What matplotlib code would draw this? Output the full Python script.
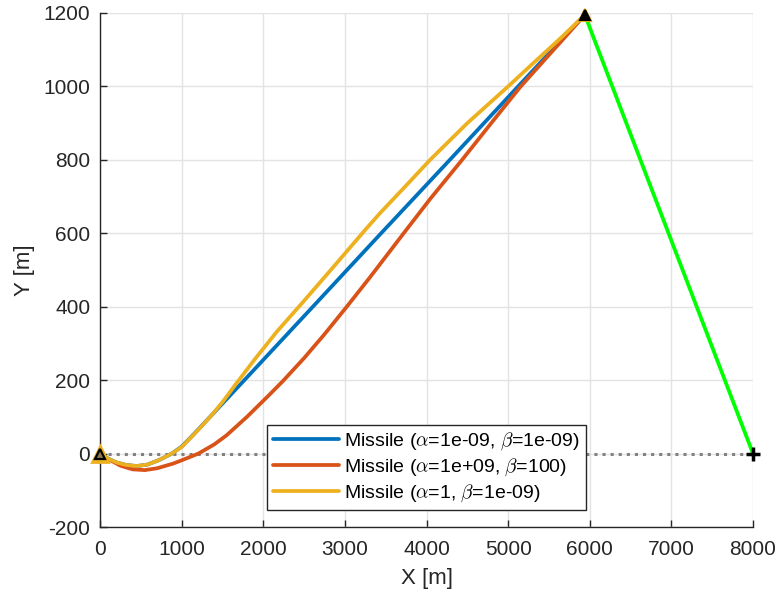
import numpy as np
import matplotlib
matplotlib.use("Agg")
import matplotlib.pyplot as plt

plt.rcParams['font.family'] = ['Liberation Sans', 'DejaVu Sans']
plt.rcParams['mathtext.fontset'] = 'cm'
plt.rcParams['axes.unicode_minus'] = False

# Missile 1 (blue)
blue_x = [0, 100, 200, 320, 450, 580, 720, 880, 1000, 1150, 1348, 1756, 2574, 3431, 4252, 5110, 5940]
blue_y = [0, -14, -24, -31, -34, -30, -18, 0, 19, 53, 100, 197, 392, 597, 792, 997, 1195]

# Missile 2 (red)
red_x = [0, 100, 250, 400, 550, 700, 900, 1050, 1205, 1400, 1552, 1800, 2083, 2243, 2500, 2750,
         3023, 3300, 3720, 4050, 4436, 4800, 5147, 5453, 5700, 5940]
red_y = [0, -15, -33, -43, -45, -40, -27, -14, 0, 25, 50, 100, 162, 198, 260, 325,
         400, 478, 600, 695, 800, 902, 998, 1074, 1135, 1195]

# Missile 3 (yellow)
yel_x = [0, 100, 200, 320, 450, 580, 720, 880, 1000, 1150, 1350, 1500, 1660, 1900, 2170, 2480,
         2800, 3248, 3431, 3750, 4044, 4500, 5000, 5331, 5650, 5940]
yel_y = [0, -14, -24, -31, -34, -30, -18, 0, 18, 52, 100, 140, 188, 258, 333, 411,
         493, 609, 655, 730, 800, 900, 1000, 1068, 1133, 1195]

# Target path (green)
tgt_x = [8000, 5940]
tgt_y = [0, 1195]

labels = [r'Missile ($\alpha$=1e-09, $\beta$=1e-09)',
          r'Missile ($\alpha$=1e+09, $\beta$=100)',
          r'Missile ($\alpha$=1, $\beta$=1e-09)']

xticks = [0, 1000, 2000, 3000, 4000, 5000, 6000, 7000, 8000]
yticks = [-200, 0, 200, 400, 600, 800, 1000, 1200]

fig = plt.figure(figsize=(7.79, 5.99), dpi=100)
ax = fig.add_axes([0.1284, 0.1202, 0.8382, 0.8581])

ax.plot([0, 8000], [0, 0], ':', color='#808080', lw=2.2, zorder=1)

cols = ['#0072BD', '#D95319', '#EDB120']
h = []
for xs, ys, c, lab in zip([blue_x, red_x, yel_x], [blue_y, red_y, yel_y], cols, labels):
    l, = ax.plot(xs, ys, '-', color=c, lw=2.7, label=lab, zorder=3,
                 solid_joinstyle='round', solid_capstyle='round')
    h.append(l)

ax.plot(tgt_x, tgt_y, '-', color='#00FF00', lw=2.7, zorder=3)

# start marker
ax.plot(blue_x[0], blue_y[0], '^', ms=11, mfc='#EDB120', mec='#EDB120', mew=2, zorder=5, clip_on=False)
ax.plot(blue_x[0], blue_y[0], '^', ms=7.5, mfc='#8a7a50', mec='black', mew=1.6, zorder=6, clip_on=False)
# end marker
ax.plot(blue_x[-1], blue_y[-1], '^', ms=8, mfc='#EDB120', mec='#EDB120', mew=1.5, zorder=5, clip_on=False)
ax.plot(blue_x[-1], blue_y[-1], '^', ms=7, mfc='black', mec='black', mew=1.5, zorder=6, clip_on=False)
# target start
ax.plot(tgt_x[0], tgt_y[0], '+', ms=10, color='black', mew=2.5, zorder=6, clip_on=False)

ax.set_xlim(0, 8000)
ax.set_ylim(-200, 1200)
ax.set_xticks(xticks)
ax.set_yticks(yticks)
ax.grid(True, color='#e3e3e3', lw=1)
ax.set_axisbelow(True)
for s in ['top', 'right']:
    ax.spines[s].set_visible(False)
for s in ['left', 'bottom']:
    ax.spines[s].set_color('#262626')
    ax.spines[s].set_linewidth(1.0)
ax.tick_params(direction='in', length=5, width=1, colors='#262626', labelsize=15)
ax.tick_params(axis='x', pad=9)
ax.tick_params(axis='y', pad=7)
ax.set_xlabel('X [m]', fontsize=16, color='#262626', labelpad=7)
ax.set_ylabel('Y [m]', fontsize=16, color='#262626', labelpad=6)

leg = ax.legend(handles=h, loc='lower center', bbox_to_anchor=(0.5, 0.015), fontsize=14,
                handlelength=3.4, handletextpad=0.25, borderpad=0.3, labelspacing=0.22,
                fancybox=False, framealpha=1, edgecolor='#262626')
leg.get_frame().set_linewidth(1.0)

fig.savefig('out.png', dpi=100)
